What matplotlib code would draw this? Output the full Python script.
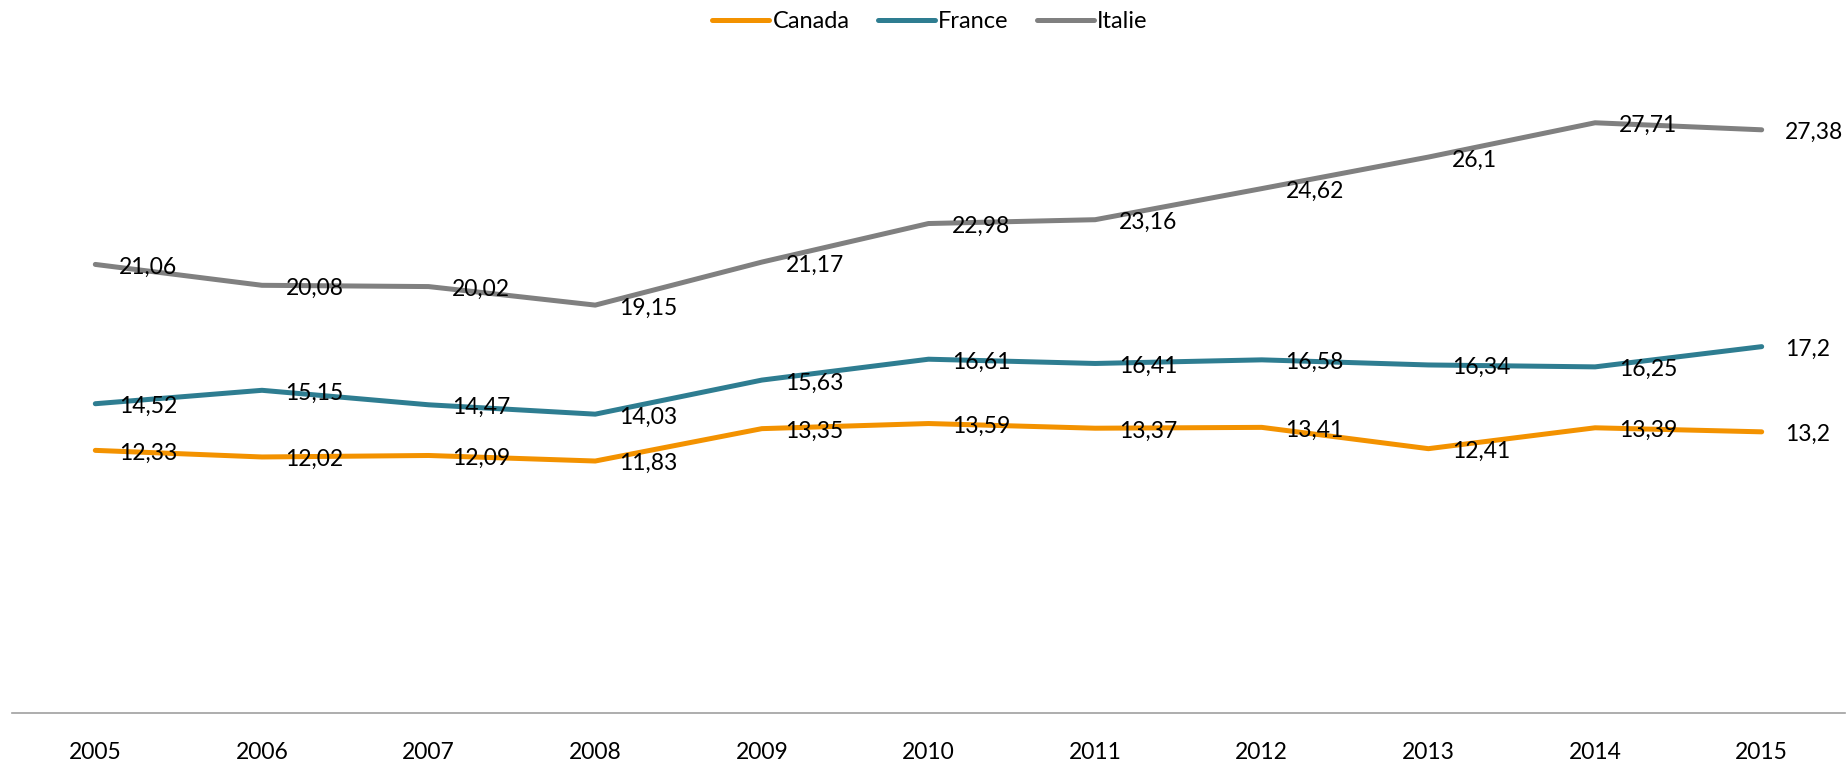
import matplotlib
matplotlib.use("Agg")
import matplotlib.pyplot as plt
import numpy as np

years = ["2005", "2006", "2007", "2008", "2009", "2010", "2011", "2012", "2013", "2014", "2015"]
canada = [12.33, 12.02, 12.09, 11.83, 13.35, 13.59, 13.37, 13.41, 12.41, 13.39, 13.2]
france = [14.52, 15.15, 14.47, 14.03, 15.63, 16.61, 16.41, 16.58, 16.34, 16.25, 17.2]
italie = [21.06, 20.08, 20.02, 19.15, 21.17, 22.98, 23.16, 24.62, 26.1, 27.71, 27.38]

series = [("Canada", canada, "#F39200"),
          ("France", france, "#2E7D91"),
          ("Italie", italie, "#808080")]

plt.rcParams['font.family'] = ['Lato', 'DejaVu Sans']

fig = plt.figure(figsize=(18.48, 7.6), dpi=100)
ax = fig.add_axes([12/1848, 1 - 713/760, 1833/1848, 639/760])

x = np.arange(len(years))
for name, vals, col in series:
    ax.plot(x, vals, color=col, lw=3.6, solid_capstyle='round', solid_joinstyle='round', label=name)
    for xi, v in zip(x, vals):
        ax.annotate(str(v).replace('.', ','), (xi, v), xytext=(17, -2), textcoords='offset points',
                    ha='left', va='center', fontsize=16.5, color='black')

ax.set_xlim(-0.5, len(years) - 0.5)
ax.set_ylim(0, 30)
ax.set_xticks(x)
ax.set_xticklabels(years, fontsize=16.5)
ax.tick_params(axis='x', length=0, pad=21)
ax.set_yticks([])
for s in ['top', 'right', 'left']:
    ax.spines[s].set_visible(False)
ax.spines['bottom'].set_color('#A0A0A0')
ax.spines['bottom'].set_linewidth(1.2)

fig.legend(loc='center', bbox_to_anchor=(930/1848, 1 - 22/760), ncol=3, frameon=False,
           fontsize=17, handlelength=2.4, handletextpad=0.15, columnspacing=1.2)

fig.savefig("out.png", dpi=100)
